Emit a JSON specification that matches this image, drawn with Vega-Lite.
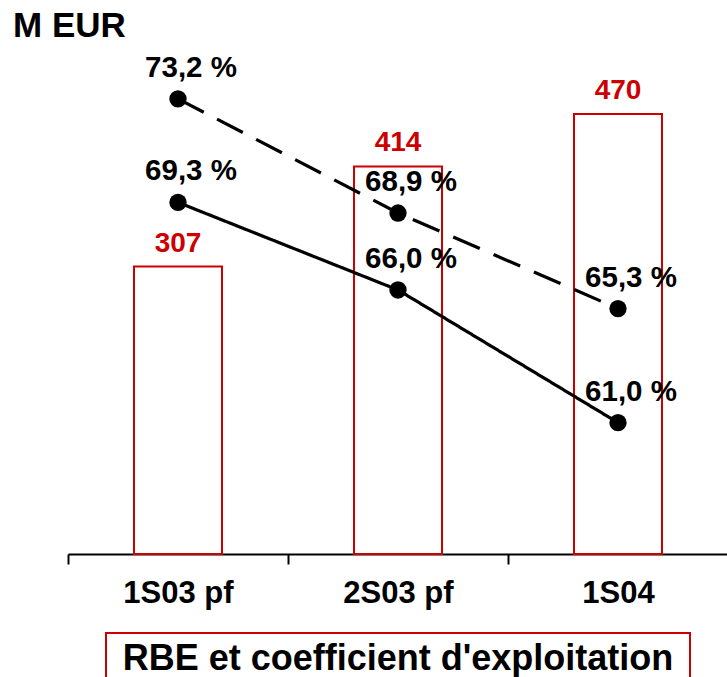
{
  "$schema": "https://vega.github.io/schema/vega-lite/v6.json",
  "autosize": {"type": "pad"},
  "padding": {"left": 13, "top": 9, "right": 0, "bottom": -16},
  "background": "white",
  "title": {
    "text": "M EUR",
    "anchor": "start",
    "dx": -54,
    "offset": -32,
    "baseline": "alphabetic",
    "fontSize": 35,
    "font": "Liberation Sans",
    "fontWeight": "bold",
    "color": "black"
  },
  "config": {
    "font": "Liberation Sans",
    "view": {"stroke": null},
    "locale": {
      "number": {
        "decimal": ",",
        "thousands": " ",
        "grouping": [3],
        "currency": ["", " €"],
        "percent": " %"
      }
    }
  },
  "datasets": {
    "rbe": [
      {"period": "1S03 pf", "rbe": 307},
      {"period": "2S03 pf", "rbe": 414},
      {"period": "1S04", "rbe": 470}
    ],
    "coef": [
      {"period": "1S03 pf", "series": "dashed", "coef": 0.732},
      {"period": "2S03 pf", "series": "dashed", "coef": 0.689},
      {"period": "1S04", "series": "dashed", "coef": 0.653},
      {"period": "1S03 pf", "series": "solid", "coef": 0.693},
      {"period": "2S03 pf", "series": "solid", "coef": 0.660},
      {"period": "1S04", "series": "solid", "coef": 0.610}
    ],
    "caption": [
      {"caption": "RBE et coefficient d'exploitation"}
    ]
  },
  "spacing": 24,
  "center": true,
  "vconcat": [
    {
      "width": 660,
      "height": 514,
      "layer": [
        {
          "data": {"name": "rbe"},
          "encoding": {
            "x": {
              "field": "period",
              "type": "nominal",
              "sort": null,
              "scale": {"paddingInner": 0, "paddingOuter": 0},
              "axis": {
                "title": null,
                "tickBand": "extent",
                "labelAngle": 0,
                "labelFontSize": 31,
                "labelFont": "Liberation Sans",
                "labelFontWeight": "bold",
                "labelColor": "black",
                "labelPadding": 14,
                "tickSize": 10,
                "tickWidth": 2,
                "tickColor": "black",
                "domainColor": "black",
                "domainWidth": 2,
                "grid": false
              }
            },
            "y": {
              "field": "rbe",
              "type": "quantitative",
              "scale": {"domain": [0, 549], "nice": false, "zero": true},
              "axis": null
            }
          },
          "layer": [
            {
              "mark": {
                "type": "bar",
                "fill": "white",
                "stroke": "#cc0000",
                "strokeWidth": 2,
                "width": {"band": 0.4}
              }
            },
            {
              "mark": {
                "type": "text",
                "dy": -15,
                "baseline": "alphabetic",
                "fontSize": 28,
                "fontWeight": "bold",
                "color": "#cc0000"
              },
              "encoding": {"text": {"field": "rbe", "type": "quantitative"}}
            }
          ]
        },
        {
          "data": {"name": "coef"},
          "encoding": {
            "x": {"field": "period", "type": "nominal", "sort": null},
            "y": {
              "field": "coef",
              "type": "quantitative",
              "scale": {"domain": [0.5605, 0.7542], "nice": false, "zero": false},
              "axis": null
            }
          },
          "layer": [
            {
              "mark": {"type": "line", "color": "black", "strokeWidth": 3.2},
              "encoding": {
                "strokeDash": {
                  "field": "series",
                  "type": "nominal",
                  "scale": {"domain": ["solid", "dashed"], "range": [[1, 0], [29, 15]]},
                  "legend": null
                }
              }
            },
            {
              "mark": {"type": "circle", "color": "black", "size": 300, "opacity": 1}
            },
            {
              "mark": {
                "type": "text",
                "dx": 13,
                "dy": -22,
                "baseline": "alphabetic",
                "fontSize": 29.5,
                "fontWeight": "bold",
                "color": "black"
              },
              "encoding": {"text": {"field": "coef", "type": "quantitative", "format": ".1%"}}
            }
          ]
        }
      ],
      "resolve": {"scale": {"y": "independent"}}
    },
    {
      "width": 584,
      "height": 60,
      "view": {"stroke": "#cc0000", "strokeWidth": 2, "fill": "white"},
      "data": {"name": "caption"},
      "mark": {
        "type": "text",
        "baseline": "alphabetic",
        "dy": 7,
        "fontSize": 36,
        "fontWeight": "bold",
        "color": "black"
      },
      "encoding": {"text": {"field": "caption", "type": "nominal"}}
    }
  ]
}
